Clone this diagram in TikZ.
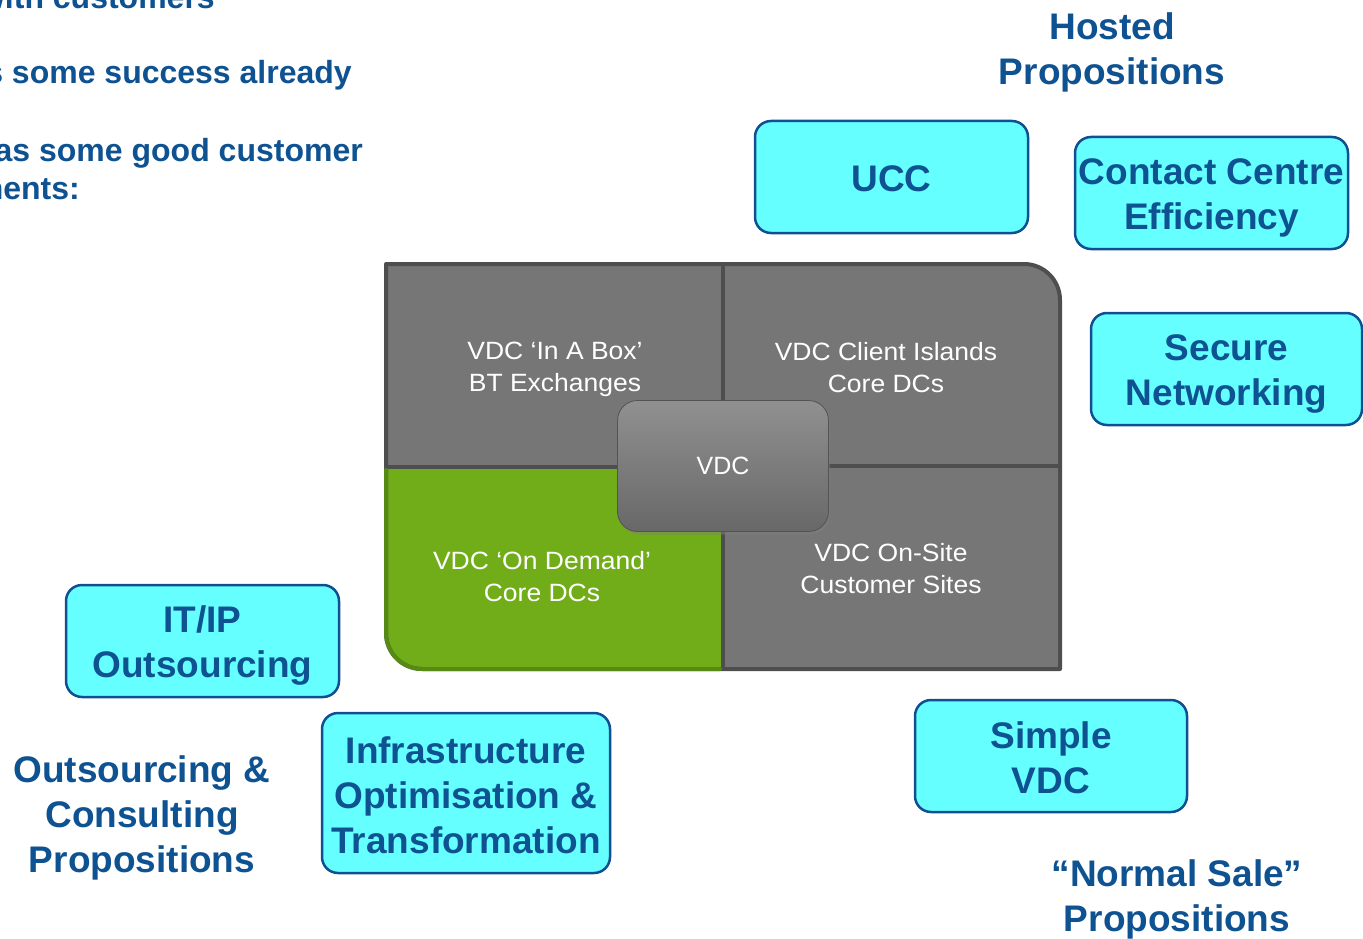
\documentclass[tikz,border=0pt]{standalone}
\usepackage{fontspec}
\setmainfont{Liberation Sans}
\newfontfamily\cellfont[FakeStretch=1.06]{Liberation Sans}
\usetikzlibrary{shadows}

\definecolor{propblue}{RGB}{14,82,145}
\definecolor{boxcyan}{RGB}{102,255,255}
\definecolor{boxedge}{RGB}{16,80,146}
\definecolor{cellgrey}{RGB}{118,118,118}
\definecolor{celledge}{RGB}{78,78,78}
\definecolor{cellgreen}{RGB}{112,173,25}
\definecolor{greenedge}{RGB}{86,138,20}
\definecolor{hubtop}{RGB}{144,144,144}
\definecolor{hubbottom}{RGB}{104,104,104}

\tikzset{
  propbox/.style={draw=boxedge, line width=2.5pt, fill=boxcyan, rounded corners=16pt,
    inner sep=0pt},
  proptext/.style={inner sep=0pt, align=center, text=propblue,
    font=\bfseries\fontsize{37}{45}\selectfont},
  bullettext/.style={inner sep=0pt, anchor=base east, text=propblue,
    font=\bfseries\fontsize{32}{37}\selectfont},
  celltext/.style={inner sep=0pt, align=center, text=white,
    font=\cellfont\fontsize{25}{32}\selectfont},
  hubbox/.style={draw=hubbottom!80!black, line width=0.8pt, rounded corners=20pt,
    top color=hubtop, bottom color=hubbottom, minimum width=211pt, minimum height=131pt,
    text=white, font=\fontsize{25}{30}\selectfont,
    drop shadow={opacity=0.45, shadow xshift=1.5pt, shadow yshift=-3pt}},
  divider/.style={draw=celledge, line width=4pt},
}

\begin{document}
\begin{tikzpicture}[x=1pt, y=-1pt]
\useasboundingbox (0,0) rectangle (1363,939);
\clip (0,0) rectangle (1363,939);

% bullet lines at the top left
\node[bullettext] (b1) at (215,9) {with customers};
\node[bullettext] (b2) at (352,84) {s some success already};
\node[bullettext] (b3) at (363,162) {as some good customer};
\node[bullettext] (b4) at (80,199) {nents:};

% central VDC quadrant block
\def\blockpath{(386,264) -- (1024,264) arc[start angle=-90, end angle=0, radius=36]
  -- (1060,669) -- (422,669) arc[start angle=90, end angle=180, radius=36] -- cycle}
\fill[cellgrey] \blockpath;
\begin{scope}
  \clip \blockpath;
  \fill[cellgreen] (386,467) rectangle (723,669);
\end{scope}
\draw[divider] (723,264) -- (723,669);
\draw[divider] (386,467) -- (723,467);
\draw[divider] (723,466) -- (1060,466);
\draw[draw=celledge, line width=4pt, line join=round] \blockpath;
\draw[draw=greenedge, line width=4pt, line cap=round]
  (386,470) -- (386,633) arc[start angle=180, end angle=90, radius=36] -- (720,669);

\node[celltext] (inabox) at (555,369) {VDC ‘In A Box’\\BT Exchanges};
\node[celltext] (islands) at (886,368) {VDC Client Islands\\Core DCs};
\node[celltext] (ondemand) at (542,577) {VDC ‘On Demand’\\Core DCs};
\node[celltext] (onsite) at (891,569) {VDC On-Site\\Customer Sites};

\node[hubbox] (hub) at (723,466) {VDC};

% proposition boxes
\node[propbox, minimum width=273pt, minimum height=112pt] (ucc) at (891.5,177) {};
\node[propbox, minimum width=273pt, minimum height=112pt] (contact) at (1211.5,193) {};
\node[propbox, minimum width=271pt, minimum height=112pt] (secure) at (1226.5,369) {};
\node[propbox, minimum width=273pt, minimum height=112pt] (itip) at (202.5,641) {};
\node[propbox, minimum width=288pt, minimum height=160pt] (infra) at (466,793) {};
\node[propbox, minimum width=272pt, minimum height=112pt] (simple) at (1051,756) {};

\node[proptext] (ucctext) at ([yshift=-2pt]ucc.center) {UCC};
\node[proptext] (contacttext) at ([yshift=-5pt]contact.center) {Contact Centre\\Efficiency};
\node[proptext] (securetext) at ([yshift=-5pt]secure.center) {Secure\\Networking};
\node[proptext] (itiptext) at ([yshift=-5pt]itip.center) {IT/IP\\Outsourcing};
\node[proptext] (infratext) at ([yshift=-2pt]infra.center) {Infrastructure\\Optimisation \&\\Transformation};
\node[proptext] (simpletext) at ([yshift=-2pt]simple.center) {Simple\\VDC};

% group headings
\node[proptext] (hosted) at (1112,52) {Hosted\\Propositions};
\node[proptext] (consult) at (142,818) {Outsourcing \&\\Consulting\\Propositions};
\node[proptext] (normal) at (1177,899) {“Normal Sale”\\Propositions};
\end{tikzpicture}
\end{document}
